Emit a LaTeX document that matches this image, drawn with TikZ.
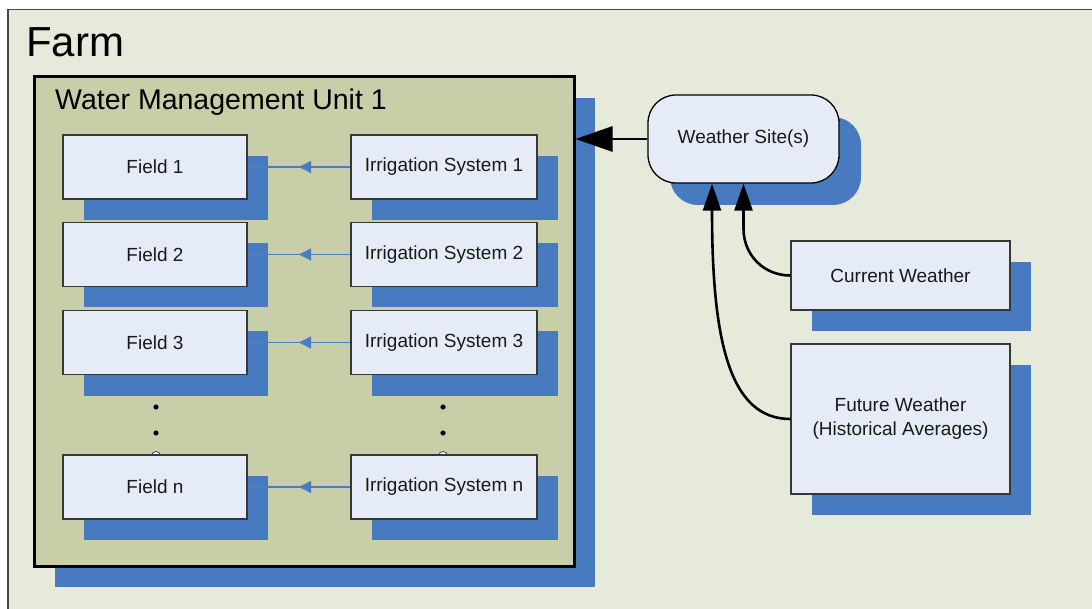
\documentclass[tikz,border=0pt]{standalone}
\usepackage{fontspec}
\setmainfont{Liberation Sans}
\usetikzlibrary{arrows.meta,shadows,decorations.markings,calc}

\definecolor{farmfill}{RGB}{230,234,218}
\definecolor{farmline}{RGB}{70,70,70}
\definecolor{wmufill}{RGB}{199,206,168}
\definecolor{shadowblue}{RGB}{72,122,192}
\definecolor{boxfill}{RGB}{229,236,247}
\definecolor{boxline}{RGB}{55,55,55}
\definecolor{linkblue}{RGB}{74,126,193}

\begin{document}
\begin{tikzpicture}[x=1pt,y=-1pt,
  dropshadow/.style={copy shadow={shadow xshift=21pt,shadow yshift=-21pt,
      fill=shadowblue,draw=none,opacity=1}},
  boxtext/.style={font=\fontsize{19}{24}\selectfont,text=black!90},
  fieldbox/.style={draw=boxline,line width=1.3pt,fill=boxfill,inner sep=0pt,
      minimum width=184pt,minimum height=64pt,boxtext,dropshadow},
  irrbox/.style={fieldbox,minimum width=186pt},
  sidebox/.style={draw=boxline,line width=1.3pt,fill=boxfill,inner sep=0pt,
      minimum width=219pt,boxtext,align=center,dropshadow},
  sitebox/.style={draw=black,line width=1.3pt,fill=boxfill,inner sep=0pt,
      rounded corners=28pt,minimum width=191pt,minimum height=88pt,boxtext,
      copy shadow={shadow xshift=22pt,shadow yshift=-22pt,fill=shadowblue,
      draw=none,opacity=1}},
  unitbox/.style={draw=black,line width=3pt,fill=wmufill,inner sep=0pt,
      minimum width=540pt,minimum height=489pt,dropshadow},
  feed/.style={draw=linkblue,line width=1.3pt,postaction={decorate},
      decoration={markings,mark=at position 0.5 with
      {\arrow[color=linkblue]{Triangle[length=12pt,width=12pt]}}}},
  siteflow/.style={draw=black,line width=2.8pt,-{Triangle[length=37pt,width=25pt]}},
  dataflow/.style={draw=black,line width=2.6pt,-{Triangle[length=27pt,width=18pt]}},
  dotmark/.style={fill=black}]

\useasboundingbox (0,0) rectangle (1092,609);
\fill[white] (0,0) rectangle (1092,609);

% farm area, running off the right and bottom edges
\begin{scope}
  \clip (0,0) rectangle (1092,609);
  \node[draw=farmline,line width=1.5pt,fill=farmfill,inner sep=0pt,
        minimum width=1120pt,minimum height=640pt,anchor=north west]
        (farm) at (7,9) {};
\end{scope}
\node[anchor=base west,inner sep=0pt,font=\fontsize{42}{50}\selectfont]
      (farmlabel) at (26,57) {Farm};

% water management unit
\node[unitbox] (wmu) at (304,321.5) {};
\node[anchor=base west,inner sep=0pt,font=\fontsize{28.5}{34}\selectfont]
      (wmulabel) at (55,110) {Water Management Unit 1};

% continuation dots
\fill[dotmark] (156,407) circle[radius=2.6pt];
\fill[dotmark] (156,433) circle[radius=2.6pt];
\filldraw[fill=white,draw=black,line width=0.5pt] (156,456) circle[radius=4.5pt];
\fill[dotmark] (443,407) circle[radius=2.6pt];
\fill[dotmark] (443,433) circle[radius=2.6pt];
\filldraw[fill=white,draw=black,line width=0.5pt] (443,456) circle[radius=4.5pt];

% fields and irrigation systems
\node[fieldbox] (f1) at (155,167) {Field 1};
\node[fieldbox] (f2) at (155,254.5) {Field 2};
\node[fieldbox] (f3) at (155,342.5) {Field 3};
\node[fieldbox] (fn) at (155,487) {Field n};

\node[irrbox] (i1) at (444,167) {Irrigation System 1};
\node[irrbox] (i2) at (444,254.5) {Irrigation System 2};
\node[irrbox] (i3) at (444,342.5) {Irrigation System 3};
\node[irrbox] (in) at (444,487) {Irrigation System n};

\draw[feed] (i1.west) -- (f1.east);
\draw[feed] (i2.west) -- (f2.east);
\draw[feed] (i3.west) -- (f3.east);
\draw[feed] (in.west) -- (fn.east);

% weather sources
\node[sitebox] (ws) at (743.5,139) {Weather Site(s)};
\node[sidebox,minimum height=69pt] (cw) at (900.5,275.5) {Current Weather};
\node[sidebox,minimum height=150pt] (fw) at (900.5,419)
      {Future Weather\\(Historical Averages)};

\draw[siteflow] (ws.west) -- (ws.west -| wmu.east);
\draw[dataflow] (cw.west) .. controls +(-26.5,0) and +(0,26.5) ..
      ($(ws.south)+(0,45)$) -- (ws.south);
\draw[dataflow] (fw.west) .. controls +(-61,0) and +(0,130) ..
      ($(ws.south)+(-31.5,27)$) -- ($(ws.south)+(-31.5,0)$);

\end{tikzpicture}
\end{document}
